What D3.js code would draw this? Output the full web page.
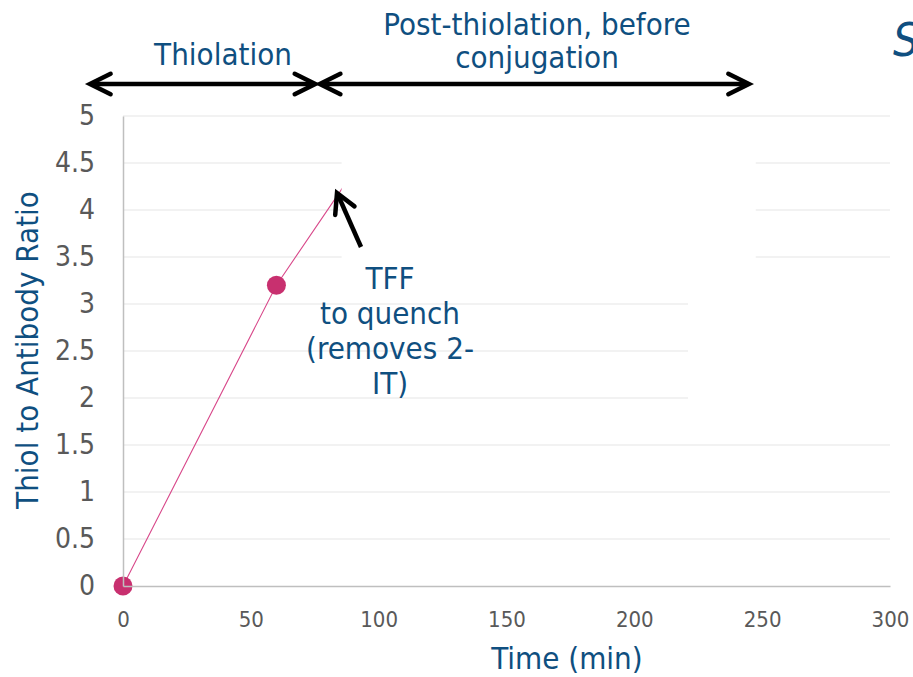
<!DOCTYPE html>
<html>
<head>
<meta charset="utf-8">
<script src="https://cdn.jsdelivr.net/npm/d3@7"></script>
<style>
  html, body { margin: 0; padding: 0; background: #fff; }
  svg { display: block; }
  text { font-family: "DejaVu Sans Condensed", "DejaVu Sans", sans-serif; font-stretch: condensed; }
</style>
</head>
<body>
<svg id="chart" width="913" height="677"></svg>
<script>
// Thiolation time course
const timeMin = [0, 60, 90];
const thiolRatio = [0, 3.2, 4.4];
const xTicks = [0, 50, 100, 150, 200, 250, 300];
const yTicks = [0, 0.5, 1, 1.5, 2, 2.5, 3, 3.5, 4, 4.5, 5];
const phaseLabels = ["Thiolation", "Post-thiolation, before", "conjugation"];
const phaseBounds = [0, 76, 246]; // minutes on the time axis
const noteLines = ["TFF", "to quench", "(removes 2-", "IT)"];

const W = 913, H = 677;
const margin = { left: 123, right: 23, top: 116, bottom: 91 };
const blue = "#0f4f80", grey = "#595959", pink = "#c8306f";

const svg = d3.select("#chart");
const x = d3.scaleLinear().domain([0, 300]).range([margin.left, W - margin.right]);
const y = d3.scaleLinear().domain([0, 5]).range([H - margin.bottom, margin.top]);

// horizontal gridlines
svg.append("g").selectAll("line")
  .data(yTicks.filter(v => v > 0))
  .join("line")
  .attr("x1", x(0)).attr("x2", x(300))
  .attr("y1", d => y(d)).attr("y2", d => y(d))
  .attr("stroke", "#eeeeee").attr("stroke-width", 1.5);

// series line and markers
const pts = timeMin.map((t, i) => ({ t, v: thiolRatio[i] }));
svg.append("path")
  .datum(pts)
  .attr("fill", "none")
  .attr("stroke", "#d8488a")
  .attr("stroke-width", 1.1)
  .attr("d", d3.line().x(d => x(d.t)).y(d => y(d.v)));
svg.append("g").selectAll("circle")
  .data(pts)
  .join("circle")
  .attr("cx", d => x(d.t)).attr("cy", d => y(d.v))
  .attr("r", 9.5).attr("fill", pink);

// opaque annotation panels sitting over the plot
const panels = [
  { t0: 85.5, t1: 247.5, v0: 3.2, v1: 4.85 },
  { t0: 221, t1: 310, v0: 1.75, v1: 3.3 }
];
svg.append("g").selectAll("rect")
  .data(panels)
  .join("rect")
  .attr("x", d => x(d.t0)).attr("width", d => x(d.t1) - x(d.t0))
  .attr("y", d => y(d.v1)).attr("height", d => y(d.v0) - y(d.v1))
  .attr("fill", "#fff");

// axes
const yAxis = svg.append("g")
  .attr("transform", `translate(${x(0)},0)`)
  .call(d3.axisLeft(y).tickValues(yTicks).tickSize(0).tickPadding(28).tickFormat(d3.format("")));
yAxis.select(".domain").attr("stroke", "#bfbfbf").attr("stroke-width", 1.5);
yAxis.selectAll("text").attr("font-size", 28).attr("fill", grey)
  .style("font-family", '"DejaVu Sans Condensed", "DejaVu Sans", sans-serif');

const xAxis = svg.append("g")
  .attr("transform", `translate(0,${y(0)})`)
  .call(d3.axisBottom(x).tickValues(xTicks).tickSize(0).tickPadding(25));
xAxis.select(".domain").attr("stroke", "#bfbfbf").attr("stroke-width", 1.5);
xAxis.selectAll("text").attr("font-size", 22).attr("fill", grey)
  .style("font-family", '"DejaVu Sans Condensed", "DejaVu Sans", sans-serif');

// axis titles
svg.append("text")
  .attr("transform", `translate(38,${(y(0) + y(5)) / 2 - 1}) rotate(-90)`)
  .attr("text-anchor", "middle")
  .attr("font-size", 31).attr("fill", blue)
  .text("Thiol to Antibody Ratio");
svg.append("text")
  .attr("x", 567).attr("y", 669)
  .attr("text-anchor", "middle")
  .attr("font-size", 31).attr("fill", blue)
  .text("Time (min)");

// phase labels
svg.append("text").attr("x", 223).attr("y", 65).attr("text-anchor", "middle")
  .attr("font-size", 31).attr("fill", blue).text(phaseLabels[0]);
svg.append("text").attr("x", 537).attr("y", 35).attr("text-anchor", "middle")
  .attr("font-size", 31).attr("fill", blue).text(phaseLabels[1]);
svg.append("text").attr("x", 537).attr("y", 68).attr("text-anchor", "middle")
  .attr("font-size", 31).attr("fill", blue).text(phaseLabels[2]);

// title fragment at the right edge
svg.append("text").attr("x", 893).attr("y", 56)
  .attr("font-size", 46).attr("font-style", "italic").attr("fill", blue)
  .style("font-stretch", "normal")
  .text("S");

// chevron-headed arrows
function chevron(g, tx, ty, fx, fy, len, spread) {
  const a = Math.atan2(fy - ty, fx - tx);
  const p1 = [tx + len * Math.cos(a + spread), ty + len * Math.sin(a + spread)];
  const p2 = [tx + len * Math.cos(a - spread), ty + len * Math.sin(a - spread)];
  g.append("path")
    .attr("d", `M${p1[0]},${p1[1]}L${tx},${ty}L${p2[0]},${p2[1]}`)
    .attr("fill", "none").attr("stroke", "#000").attr("stroke-width", 4.5)
    .attr("stroke-linecap", "round").attr("stroke-linejoin", "miter");
}
const arrows = svg.append("g");
const arrowY = 84;
[[phaseBounds[0], phaseBounds[1]], [phaseBounds[1], phaseBounds[2]]].forEach(([a, b], i) => {
  const xa = x(a) - 33 + (i === 1 ? 35.5 : 0);
  const xb = x(b) - (i === 0 ? 2 : 3);
  arrows.append("line").attr("x1", xa + 3).attr("x2", xb - 3)
    .attr("y1", arrowY).attr("y2", arrowY)
    .attr("stroke", "#000").attr("stroke-width", 4.5);
  chevron(arrows, xa, arrowY, xb, arrowY, 23, 0.46);
  chevron(arrows, xb, arrowY, xa, arrowY, 23, 0.46);
});

// TFF note with its arrow
const tip = [337, 193], tail = [361, 247];
arrows.append("line").attr("x1", tip[0] + 1).attr("y1", tip[1] + 2)
  .attr("x2", tail[0]).attr("y2", tail[1])
  .attr("stroke", "#000").attr("stroke-width", 4.5);
chevron(arrows, tip[0], tip[1], tail[0], tail[1], 22, 0.5);

svg.append("g").selectAll("text")
  .data(noteLines)
  .join("text")
  .attr("x", 390).attr("y", (d, i) => 289 + i * 35)
  .attr("text-anchor", "middle")
  .attr("font-size", 31).attr("fill", blue)
  .text(d => d);
</script>
</body>
</html>
